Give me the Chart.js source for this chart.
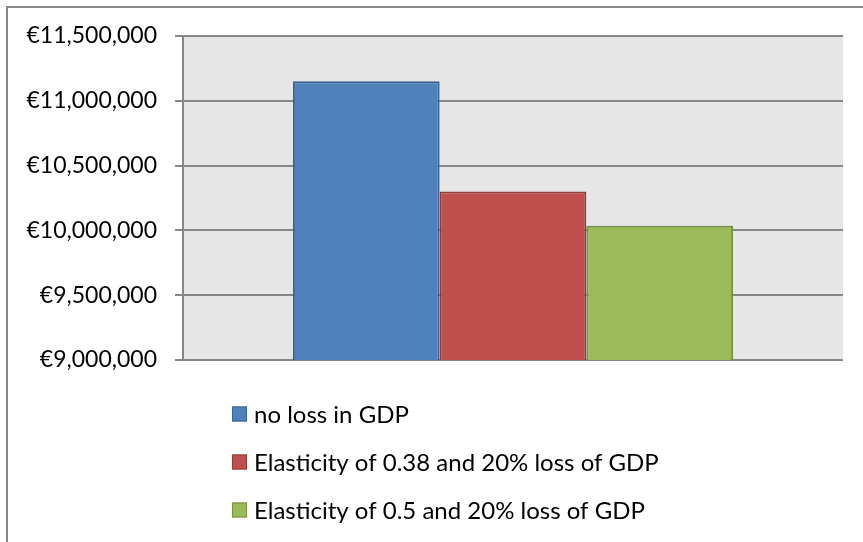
<!DOCTYPE html>
<html>
<head>
<meta charset="utf-8">
<script src="https://cdn.jsdelivr.net/npm/chart.js@4/dist/chart.umd.min.js"></script>
<style>
  html, body { margin: 0; padding: 0; background: #ffffff; }
  #wrap { width: 863px; height: 542px; }
</style>
</head>
<body>
<div id="wrap"><canvas id="c" width="863" height="542"></canvas></div>
<script>
// Scenario totals (EUR)
const categories = [''];
const seriesLabels = [
  'no loss in GDP',
  'Elasticity of 0.38 and 20% loss of GDP',
  'Elasticity of 0.5 and 20% loss of GDP'
];
const noLoss = [11150000];
const elasticity038 = [10300000];
const elasticity05 = [10035000];
const yTicks = [9000000, 9500000, 10000000, 10500000, 11000000, 11500000];

const fills = ['#4f81bd', '#c0504d', '#9bbb59'];
const edges = ['#3a6291', '#8f3b39', '#74913f'];
const gridColor = '#878787';
const fontFamily = 'Lato, "Liberation Sans", sans-serif';
const fontSize = 23;
const legendFontSize = 24;

const seriesValues = [noLoss, elasticity038, elasticity05];

// Frame, plot background
const backdrop = {
  id: 'backdrop',
  beforeDraw(chart) {
    const ctx = chart.ctx;
    const a = chart.chartArea;
    ctx.save();
    ctx.fillStyle = '#ffffff';
    ctx.fillRect(0, 0, chart.width, chart.height);
    ctx.strokeStyle = gridColor;
    ctx.lineWidth = 2;
    ctx.beginPath();
    ctx.moveTo(7, chart.height + 2);
    ctx.lineTo(7, 7);
    ctx.lineTo(chart.width + 2, 7);
    ctx.stroke();
    ctx.fillStyle = '#e6e6e6';
    ctx.fillRect(a.left, a.top, a.right - a.left, a.bottom - a.top);
    ctx.restore();
  }
};

// Vertical legend below the plot
const stackedLegend = {
  id: 'stackedLegend',
  afterDraw(chart) {
    const ctx = chart.ctx;
    const x0 = 232, y0 = 414, step = 48, box = 15;
    ctx.save();
    ctx.font = legendFontSize + 'px ' + fontFamily;
    ctx.textBaseline = 'middle';
    chart.data.datasets.forEach((ds, i) => {
      const y = y0 + i * step;
      ctx.fillStyle = ds.backgroundColor;
      ctx.fillRect(x0, y - box / 2, box, box);
      ctx.strokeStyle = ds.borderColor;
      ctx.lineWidth = 1;
      ctx.strokeRect(x0 + 0.5, y - box / 2 + 0.5, box - 1, box - 1);
      ctx.fillStyle = '#000000';
      ctx.fillText(ds.label, 254, y + 1);
    });
    ctx.restore();
  }
};

new Chart(document.getElementById('c'), {
  type: 'bar',
  data: {
    labels: categories,
    datasets: seriesLabels.map((label, i) => ({
      label: label,
      data: seriesValues[i],
      backgroundColor: fills[i],
      borderColor: edges[i],
      borderWidth: 2,
      borderSkipped: false,
      barPercentage: 1,
      categoryPercentage: 0.667
    }))
  },
  options: {
    responsive: false,
    animation: false,
    layout: { padding: { left: 0, right: 20, top: 36, bottom: 182 } },
    plugins: {
      legend: { display: false },
      tooltip: { enabled: false }
    },
    scales: {
      x: {
        display: false,
        grid: { display: false }
      },
      y: {
        min: yTicks[0],
        max: yTicks[yTicks.length - 1],
        afterFit(scale) { scale.width = 183; },
        afterBuildTicks(scale) { scale.ticks = yTicks.map(v => ({ value: v })); },
        border: { display: true, color: gridColor, width: 2 },
        grid: { color: gridColor, lineWidth: 2, tickLength: 8, drawTicks: true },
        ticks: {
          padding: 18,
          color: '#000000',
          font: { family: fontFamily, size: fontSize },
          callback: v => '€' + Number(v).toLocaleString('en-US')
        }
      }
    }
  },
  plugins: [backdrop, stackedLegend]
});
</script>
</body>
</html>
